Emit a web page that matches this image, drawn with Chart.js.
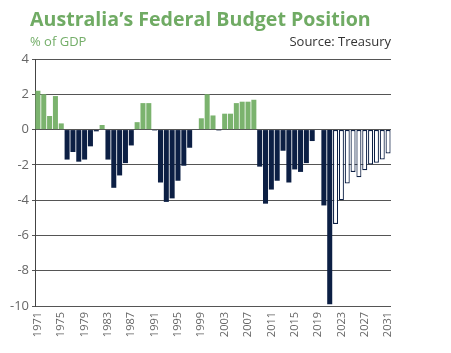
<!DOCTYPE html>
<html>
<head>
<meta charset="utf-8">
<script src="https://cdn.jsdelivr.net/npm/chart.js@4"></script>
<style>
  html, body { margin: 0; padding: 0; background: #fff; }
  #wrap { position: relative; width: 451px; height: 353px; }
  #title {
    position: absolute; left: 30px; top: 5px;
    font: bold 19.6px "Open Sans", sans-serif; color: #70ab64; white-space: nowrap;
  }
  #unit {
    position: absolute; left: 30px; top: 32px;
    font: 13px "Open Sans", sans-serif; color: #74ae69;
  }
  #source {
    position: absolute; right: 60px; top: 32px;
    font: 13px "Open Sans", sans-serif; color: #333;
  }
</style>
</head>
<body>
<div id="wrap">
  <canvas id="chart"></canvas>
  <div id="title">Australia’s Federal Budget Position</div>
  <div id="unit">% of GDP</div>
  <div id="source">Source: Treasury</div>
</div>
<script>
  // financial years ending 1971 .. 2031
  var years = [];
  for (var y = 1971; y <= 2031; y++) {
    years.push(String(y));
  }

  // underlying cash balance, % of GDP
  var balance = [
    2.2, 2.0, 0.77, 1.9, 0.35, -1.7, -1.27, -1.82, -1.7, -0.95,
    -0.1, 0.26, -1.7, -3.3, -2.6, -1.9, -0.9, 0.42, 1.5, 1.5,
    -0.05, -3.0, -4.1, -3.9, -2.9, -2.05, -1.03, 0.0, 0.64, 2.0,
    0.8, -0.05, 0.9, 0.9, 1.5, 1.58, 1.58, 1.69, -2.1, -4.2,
    -3.4, -2.9, -1.2, -3.0, -2.26, -2.4, -1.9, -0.65, 0.0, -4.3,
    -9.9, -5.35, -4.0, -3.05, -2.4, -2.7, -2.3, -1.98, -1.88, -1.7,
    -1.35
  ];

  var firstProjectionYear = 2022;
  var xTickLabels = ['1971', '1975', '1979', '1983', '1987', '1991', '1995', '1999',
    '2003', '2007', '2011', '2015', '2019', '2023', '2027', '2031'];
  var yTicks = [4, 2, 0, -2, -4, -6, -8, -10];

  var green = '#7bb36e';
  var navy = '#0c1f44';

  var fills = balance.map(function (v, i) {
    if (Number(years[i]) >= firstProjectionYear) return '#ffffff';
    return v >= 0 ? green : navy;
  });
  var borders = years.map(function (yr) {
    return Number(yr) >= firstProjectionYear ? navy : 'rgba(0,0,0,0)';
  });
  var borderWidths = years.map(function (yr) {
    return Number(yr) >= firstProjectionYear ? 1.2 : 0;
  });

  new Chart(document.getElementById('chart'), {
    type: 'bar',
    data: {
      labels: years,
      datasets: [{
        data: balance,
        backgroundColor: fills,
        borderColor: borders,
        borderWidth: borderWidths,
        borderSkipped: false,
        barPercentage: 0.86,
        categoryPercentage: 1
      }]
    },
    options: {
      responsive: true,
      maintainAspectRatio: false,
      animation: false,
      layout: { padding: { top: 59, right: 60, bottom: 0, left: 0 } },
      plugins: {
        legend: { display: false },
        tooltip: { enabled: false }
      },
      scales: {
        x: {
          grid: { display: false, drawTicks: false },
          border: { display: false },
          afterFit: function (scale) { scale.height = 47; },
          ticks: {
            autoSkip: false,
            minRotation: 90,
            maxRotation: 90,
            padding: 6,
            color: '#666',
            font: { family: 'Open Sans', size: 11 },
            callback: function (value, index) {
              var label = this.getLabelForValue(value);
              return xTickLabels.indexOf(label) >= 0 ? label : '';
            }
          }
        },
        y: {
          min: yTicks[yTicks.length - 1],
          max: yTicks[0],
          afterFit: function (scale) { scale.width = 35; },
          grid: { color: '#555', lineWidth: 1, tickLength: 3 },
          border: { display: true, color: '#444', width: 1 },
          ticks: {
            stepSize: 2,
            padding: 3,
            color: '#666',
            font: { family: 'Open Sans', size: 13 }
          }
        }
      }
    }
  });
</script>
</body>
</html>
